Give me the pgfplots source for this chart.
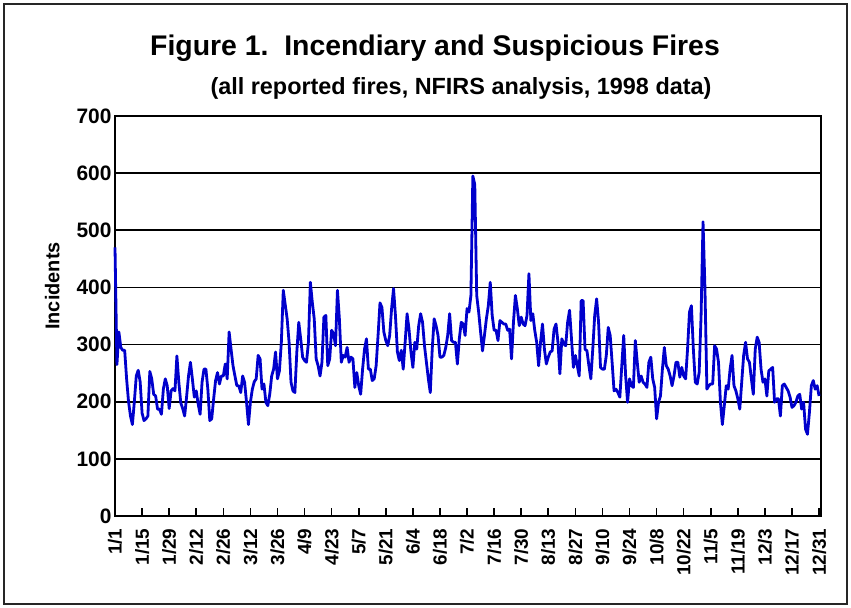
\documentclass[border=0pt]{standalone}
\usepackage{fontspec}
\setmainfont{Liberation Sans}
\usepackage{pgfplots}
\pgfplotsset{compat=1.18}
\definecolor{fireblue}{RGB}{0,0,204}
\begin{document}
\begin{tikzpicture}[x=1bp,y=1bp]
\path[use as bounding box] (0,0) rectangle (851,608);
\draw[line width=1.5bp, black!85] (4,4) rectangle (847,604);
\node[anchor=base, font=\bfseries\fontsize{28.5}{30}\selectfont] at (435,552) {Figure 1.\ \ Incendiary and Suspicious Fires};
\node[anchor=base, font=\bfseries\fontsize{23.5}{26}\selectfont] at (461,513) {(all reported fires, NFIRS analysis, 1998 data)};
\begin{axis}[
  at={(115bp,92bp)}, anchor=south west,
  scale only axis, width=706bp, height=400bp,
  xmin=0, xmax=365, ymin=0, ymax=700,
  clip=false,
  xtick={0,14,...,364},
  xticklabels={1/1,1/15,1/29,2/12,2/26,3/12,3/26,4/9,4/23,5/7,5/21,6/4,6/18,7/2,7/16,7/30,8/13,8/27,9/10,9/24,10/8,10/22,11/5,11/19,12/3,12/17,12/31},
  ytick={0,100,...,700},
  tick pos=left, tick align=inside,
  major tick length=8bp,
  tick style={black, line width=1.6bp},
  ymajorgrids, major grid style={black, line width=1.8bp},
  axis line style={black, line width=2.6bp},
  /pgf/number format/assume math mode=true,
  yticklabel style={font=\bfseries\fontsize{21}{23}\selectfont},
  xticklabel style={font=\bfseries\fontsize{19}{21}\selectfont, rotate=90, anchor=east, xshift=-9bp},
  ylabel={Incidents},
  ylabel style={font=\bfseries\fontsize{20}{22}\selectfont, at={(axis description cs:-0.089,0.575)}, anchor=center},
]
\addplot[fireblue, line width=2.8bp, line join=round, mark=none] coordinates {
(0,470)(1,265)(2,322)(3,295)(4,290)(5,290)(6,240)(7,200)(8,175)(9,160)
(10,200)(11,245)(12,255)(13,235)(14,180)(15,167)(16,170)(17,175)(18,253)(19,240)
(20,213)(21,210)(22,187)(23,187)(24,178)(25,222)(26,240)(27,228)(28,188)(29,219)
(30,223)(31,219)(32,280)(33,234)(34,198)(35,188)(36,175)(37,208)(38,245)(39,269)
(40,240)(41,208)(42,219)(43,196)(44,178)(45,234)(46,257)(47,257)(48,222)(49,167)
(50,170)(51,205)(52,237)(53,251)(54,231)(55,245)(56,245)(57,266)(58,240)(59,322)
(60,292)(61,263)(62,245)(63,228)(64,228)(65,216)(66,245)(67,234)(68,199)(69,160)
(70,199)(71,222)(72,235)(73,240)(74,281)(75,275)(76,222)(77,231)(78,199)(79,193)
(80,213)(81,245)(82,257)(83,287)(84,240)(85,254)(86,304)(87,395)(88,370)(89,345)
(90,304)(91,234)(92,219)(93,216)(94,287)(95,339)(96,310)(97,278)(98,272)(99,269)
(100,304)(101,409)(102,374)(103,345)(104,275)(105,263)(106,245)(107,269)(108,348)(109,351)
(110,263)(111,275)(112,325)(113,319)(114,298)(115,395)(116,345)(117,269)(118,281)(119,278)
(120,295)(121,269)(122,278)(123,275)(124,225)(125,251)(126,228)(127,213)(128,257)(129,292)
(130,310)(131,257)(132,257)(133,237)(134,240)(135,263)(136,316)(137,373)(138,365)(139,322)
(140,307)(141,298)(142,316)(143,363)(144,398)(145,350)(146,287)(147,272)(148,290)(149,257)
(150,304)(151,354)(152,327)(153,287)(154,260)(155,304)(156,292)(157,333)(158,354)(159,339)
(160,298)(161,269)(162,240)(163,216)(164,292)(165,345)(166,333)(167,316)(168,278)(169,278)
(170,281)(171,295)(172,316)(173,354)(174,307)(175,304)(176,304)(177,266)(178,310)(179,339)
(180,336)(181,316)(182,363)(183,357)(184,386)(185,595)(186,580)(187,386)(188,357)(189,322)
(190,289)(191,316)(192,345)(193,368)(194,409)(195,351)(196,325)(197,325)(198,307)(199,342)
(200,339)(201,336)(202,336)(203,325)(204,327)(205,275)(206,339)(207,386)(208,363)(209,333)
(210,348)(211,336)(212,333)(213,351)(214,424)(215,342)(216,354)(217,325)(218,304)(219,263)
(220,304)(221,336)(222,292)(223,266)(224,278)(225,287)(226,289)(227,327)(228,336)(229,304)
(230,249)(231,310)(232,301)(233,298)(234,339)(235,360)(236,310)(237,260)(238,281)(239,263)
(240,245)(241,377)(242,377)(243,292)(244,289)(245,263)(246,240)(247,292)(248,351)(249,380)
(250,339)(251,260)(252,257)(253,257)(254,281)(255,330)(256,316)(257,269)(258,219)(259,222)
(260,216)(261,208)(262,263)(263,316)(264,245)(265,199)(266,240)(267,228)(268,225)(269,307)
(270,269)(271,234)(272,245)(273,234)(274,231)(275,225)(276,269)(277,278)(278,240)(279,225)
(280,170)(281,199)(282,210)(283,257)(284,295)(285,263)(286,257)(287,245)(288,228)(289,245)
(290,269)(291,269)(292,243)(293,260)(294,245)(295,240)(296,292)(297,357)(298,368)(299,292)
(300,234)(301,231)(302,251)(303,351)(304,515)(305,398)(306,222)(307,228)(308,231)(309,231)
(310,298)(311,292)(312,269)(313,199)(314,160)(315,193)(316,228)(317,222)(318,257)(319,281)
(320,228)(321,219)(322,205)(323,187)(324,234)(325,281)(326,304)(327,275)(328,269)(329,240)
(330,213)(331,292)(332,313)(333,304)(334,257)(335,234)(336,240)(337,210)(338,254)(339,257)
(340,260)(341,199)(342,205)(343,205)(344,175)(345,228)(346,231)(347,225)(348,219)(349,208)
(350,190)(351,193)(352,199)(353,210)(354,213)(355,187)(356,199)(357,152)(358,143)(359,181)
(360,228)(361,237)(362,222)(363,228)(364,210)
};
\end{axis}
\end{tikzpicture}
\end{document}
